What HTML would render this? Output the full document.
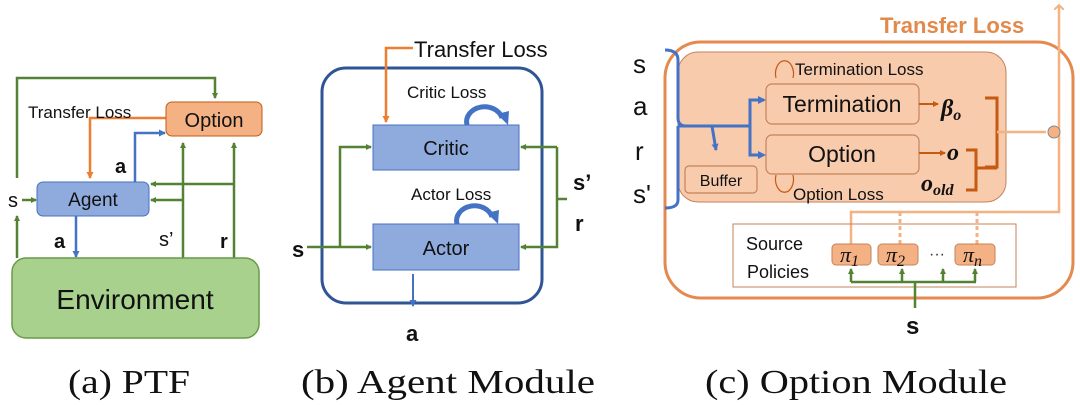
<!DOCTYPE html>
<html><head><meta charset="utf-8"><style>
html,body{margin:0;padding:0;background:#fff;width:1080px;height:405px;overflow:hidden}
svg{display:block}
.s{font-family:"Liberation Sans",sans-serif}
.cap{font-family:"Liberation Serif",serif;font-size:34px;fill:#111}
</style></head><body>
<svg width="1080" height="405" viewBox="0 0 1080 405" xmlns="http://www.w3.org/2000/svg">
<defs>
<marker id="g" markerWidth="6" markerHeight="6" refX="5" refY="3" orient="auto" markerUnits="userSpaceOnUse"><path d="M0,0L6,3L0,6z" fill="#548235"/></marker>
<marker id="b" markerWidth="7" markerHeight="7" refX="6" refY="3.5" orient="auto" markerUnits="userSpaceOnUse"><path d="M0,0L7,3.5L0,7z" fill="#4472c4"/></marker>
<marker id="o" markerWidth="7" markerHeight="7" refX="6" refY="3.5" orient="auto" markerUnits="userSpaceOnUse"><path d="M0,0L7,3.5L0,7z" fill="#ed7d31"/></marker>
<marker id="lo" markerWidth="10" markerHeight="10" refX="5" refY="5" orient="auto" markerUnits="userSpaceOnUse"><path d="M0,0L5,5L0,10" fill="none" stroke="#f4b183" stroke-width="2"/></marker>
<marker id="do" markerWidth="6" markerHeight="6" refX="5" refY="3" orient="auto" markerUnits="userSpaceOnUse"><path d="M0,0L6,3L0,6z" fill="#c55a11"/></marker>
</defs>

<!-- Panel a -->
<g fill="none" stroke-width="2.5">
<polyline points="17,178 17,78 215,78 215,98" stroke="#548235" marker-end="url(#g)"/>
<line x1="17" y1="258" x2="17" y2="216" stroke="#548235" marker-end="url(#g)"/>
<line x1="22" y1="200" x2="36" y2="200" stroke="#548235" marker-end="url(#g)"/>
<polyline points="166,118 90,118 90,178" stroke="#ed7d31" marker-end="url(#o)"/>
<polyline points="135,182 135,133 165,133" stroke="#4472c4" marker-end="url(#b)"/>
<line x1="76" y1="216" x2="76" y2="257" stroke="#4472c4" marker-end="url(#b)"/>
<line x1="183" y1="258" x2="183" y2="143" stroke="#548235" marker-end="url(#g)"/>
<line x1="234" y1="258" x2="234" y2="143" stroke="#548235" marker-end="url(#g)"/>
<line x1="234" y1="184" x2="151" y2="184" stroke="#548235" marker-end="url(#g)"/>
<line x1="183" y1="200" x2="151" y2="200" stroke="#548235" marker-end="url(#g)"/>
</g>
<rect x="166" y="102" width="96" height="34" rx="6" fill="#f4b183" stroke="#c55a11" stroke-width="1"/>
<text x="214" y="127" class="s" font-size="20" text-anchor="middle" fill="#111">Option</text>
<text x="28" y="118" class="s" font-size="17" fill="#111">Transfer Loss</text>
<rect x="37" y="182" width="112" height="34" rx="6" fill="#8faadc" stroke="#4472c4" stroke-width="1"/>
<text x="93" y="206" class="s" font-size="19" text-anchor="middle" fill="#111">Agent</text>
<text x="8" y="207" class="s" font-size="20" fill="#111">s</text>
<text x="115" y="173" class="s" font-size="20" font-weight="bold" fill="#111">a</text>
<text x="54" y="248" class="s" font-size="20" font-weight="bold" fill="#111">a</text>
<text x="159" y="246" class="s" font-size="20" fill="#111">s’</text>
<text x="220" y="248" class="s" font-size="20" font-weight="bold" fill="#111">r</text>
<rect x="12" y="258" width="247" height="80" rx="14" fill="#a9d18e" stroke="#6a9a4a" stroke-width="1.5"/>
<text x="135" y="309" class="s" font-size="28" text-anchor="middle" fill="#111">Environment</text>

<!-- Panel b -->
<rect x="322" y="68" width="220" height="235" rx="24" fill="none" stroke="#2f5597" stroke-width="3"/>
<polyline points="413,48 386,48 386,122" fill="none" stroke="#ed7d31" stroke-width="2.5" marker-end="url(#o)"/>
<text x="414" y="57" class="s" font-size="22" fill="#111">Transfer Loss</text>
<rect x="373" y="125" width="146" height="45" fill="#8faadc" stroke="#4472c4" stroke-width="1"/>
<text x="446" y="155" class="s" font-size="20" text-anchor="middle" fill="#111">Critic</text>
<rect x="373" y="224" width="146" height="46" fill="#8faadc" stroke="#4472c4" stroke-width="1"/>
<text x="446" y="255" class="s" font-size="20" text-anchor="middle" fill="#111">Actor</text>
<text x="407" y="98" class="s" font-size="17" fill="#111">Critic Loss</text>
<text x="411" y="200" class="s" font-size="17" fill="#111">Actor Loss</text>
<path d="M467,125 A18,15 0 0 1 502,118" fill="none" stroke="#4472c4" stroke-width="5"/>
<path d="M497,114 L508,125 L509,111z" fill="#4472c4"/>
<path d="M457,224 A18,15 0 0 1 492,217" fill="none" stroke="#4472c4" stroke-width="5"/>
<path d="M487,213 L498,224 L499,210z" fill="#4472c4"/>
<g fill="none" stroke="#548235" stroke-width="2.5">
<line x1="307" y1="247" x2="371" y2="247" marker-end="url(#g)"/>
<polyline points="340,247 340,147 371,147" marker-end="url(#g)"/>
<polyline points="557,147 557,247 521,247" marker-end="url(#g)"/>
<line x1="557" y1="147" x2="521" y2="147" marker-end="url(#g)"/>
<line x1="557" y1="199" x2="567" y2="199"/>
</g>
<text x="292" y="257" class="s" font-size="22" font-weight="bold" fill="#111">s</text>
<text x="573" y="190" class="s" font-size="22" font-weight="bold" fill="#111">s’</text>
<text x="575" y="231" class="s" font-size="22" font-weight="bold" fill="#111">r</text>
<line x1="413" y1="274" x2="413" y2="306" stroke="#4472c4" stroke-width="2" marker-end="url(#b)"/>
<text x="406" y="341" class="s" font-size="22" font-weight="bold" fill="#111">a</text>

<!-- Panel c -->
<rect x="665" y="42" width="408" height="256" rx="36" fill="none" stroke="#e58a4e" stroke-width="3"/>
<polyline points="851,244 851,212 1059,212 1059,5" fill="none" stroke="#f4b183" stroke-width="2.5" marker-end="url(#lo)"/>
<line x1="900" y1="244" x2="900" y2="212" stroke="#f4b183" stroke-width="3" stroke-dasharray="4,3"/>
<line x1="977" y1="244" x2="977" y2="212" stroke="#f4b183" stroke-width="3" stroke-dasharray="4,3"/>
<text x="880" y="33" class="s" font-size="22" font-weight="bold" fill="#e2894c">Transfer Loss</text>
<rect x="678" y="52" width="328" height="150" rx="20" fill="#f8cbad" stroke="#c5835a" stroke-width="1"/>
<rect x="685" y="166" width="72" height="27" rx="4" fill="none" stroke="#c5835a" stroke-width="1.2"/>
<text x="721" y="186" class="s" font-size="16" text-anchor="middle" fill="#111">Buffer</text>
<rect x="766" y="84" width="153" height="40" rx="6" fill="none" stroke="#c5835a" stroke-width="1.2"/>
<text x="842" y="112" class="s" font-size="23" text-anchor="middle" fill="#111">Termination</text>
<rect x="766" y="135" width="153" height="39" rx="6" fill="none" stroke="#c5835a" stroke-width="1.2"/>
<text x="842" y="162" class="s" font-size="23" text-anchor="middle" fill="#111">Option</text>
<text x="795" y="75" class="s" font-size="17" fill="#111">Termination Loss</text>
<text x="793" y="200" class="s" font-size="17" fill="#111">Option Loss</text>
<path d="M776,78 A9,13 0 1 1 793,78" fill="none" stroke="#c55a11" stroke-width="1.2"/>
<path d="M776,175 A9,13 0 1 0 793,175" fill="none" stroke="#c55a11" stroke-width="1.2"/>
<g class="s" font-size="26" fill="#111">
<text x="633" y="73">s</text><text x="633" y="115">a</text><text x="635" y="160">r</text><text x="633" y="203">s'</text>
</g>
<path d="M665,50 Q678,50 678,60 L678,118 Q678,126 686,126 M678,126 L678,200 Q678,208 665,208" fill="none" stroke="#4472c4" stroke-width="3"/>
<g fill="none" stroke="#4472c4" stroke-width="3">
<line x1="678" y1="126" x2="750" y2="126"/>
<polyline points="764,100 750,100 750,155 763,155"/>
<polyline points="712,126 716,150" marker-end="url(#b)"/>
</g>
<path d="M766,100 l-8,-4 v8z M766,155 l-8,-4 v8z" fill="#4472c4"/>
<g stroke="#c55a11" stroke-width="2" fill="none">
<line x1="919" y1="104" x2="938" y2="104" marker-end="url(#do)"/>
<line x1="919" y1="153" x2="945" y2="153" marker-end="url(#do)"/>
<polyline points="985,98 997,98 997,167 985,167" stroke-width="3"/>
<polyline points="966,150 976,150 976,190 966,190" stroke-width="3"/>
<line x1="976" y1="168" x2="997" y2="168" stroke-width="3"/>
</g>
<line x1="997" y1="132" x2="1046" y2="132" stroke="#f4b183" stroke-width="2.5"/>
<circle cx="1054" cy="132" r="6" fill="#f4b183" stroke="#8a8a8a" stroke-width="1"/>
<text x="941" y="116" font-family="Liberation Serif,serif" font-size="24" font-weight="bold" font-style="italic" fill="#111">β<tspan font-size="16" dy="4">o</tspan></text>
<text x="947" y="160" font-family="Liberation Serif,serif" font-size="24" font-weight="bold" font-style="italic" fill="#111">o</text>
<text x="921" y="191" font-family="Liberation Serif,serif" font-size="24" font-weight="bold" font-style="italic" fill="#111">o<tspan font-size="16" dy="4">old</tspan></text>
<rect x="733" y="224" width="283" height="63" fill="none" stroke="#c5835a" stroke-width="1"/>
<text x="746" y="250" class="s" font-size="18" fill="#111">Source</text>
<text x="747" y="278" class="s" font-size="18" fill="#111">Policies</text>
<rect x="832" y="244" width="39" height="21" rx="4" fill="#f4b183" stroke="#c5835a"/>
<rect x="878" y="244" width="40" height="21" rx="4" fill="#f4b183" stroke="#c5835a"/>
<rect x="955" y="244" width="40" height="21" rx="4" fill="#f4b183" stroke="#c5835a"/>
<g font-family="Liberation Serif,serif" font-size="22" font-style="italic" fill="#111">
<text x="840" y="262">π<tspan font-size="16" dy="4">1</tspan></text>
<text x="886" y="262">π<tspan font-size="16" dy="4">2</tspan></text>
<text x="963" y="262">π<tspan font-size="16" dy="4">n</tspan></text>
</g>
<text x="929" y="259" class="s" font-size="16" fill="#333">···</text>
<g stroke="#548235" stroke-width="2.5" fill="none">
<line x1="915" y1="308" x2="915" y2="282"/>
<line x1="851" y1="282" x2="976" y2="282"/>
<line x1="851" y1="282" x2="851" y2="269" marker-end="url(#g)"/>
<line x1="902" y1="282" x2="902" y2="269" marker-end="url(#g)"/>
<line x1="943" y1="282" x2="943" y2="269" marker-end="url(#g)"/>
<line x1="975" y1="282" x2="975" y2="269" marker-end="url(#g)"/>
</g>
<text x="906" y="334" class="s" font-size="24" font-weight="bold" fill="#111">s</text>

<!-- captions -->
<text x="68" y="393" class="cap" textLength="122" lengthAdjust="spacingAndGlyphs">(a) PTF</text>
<text x="301" y="393" class="cap" textLength="294" lengthAdjust="spacingAndGlyphs">(b) Agent Module</text>
<text x="705" y="393" class="cap" textLength="302" lengthAdjust="spacingAndGlyphs">(c) Option Module</text>
</svg>
</body></html>
